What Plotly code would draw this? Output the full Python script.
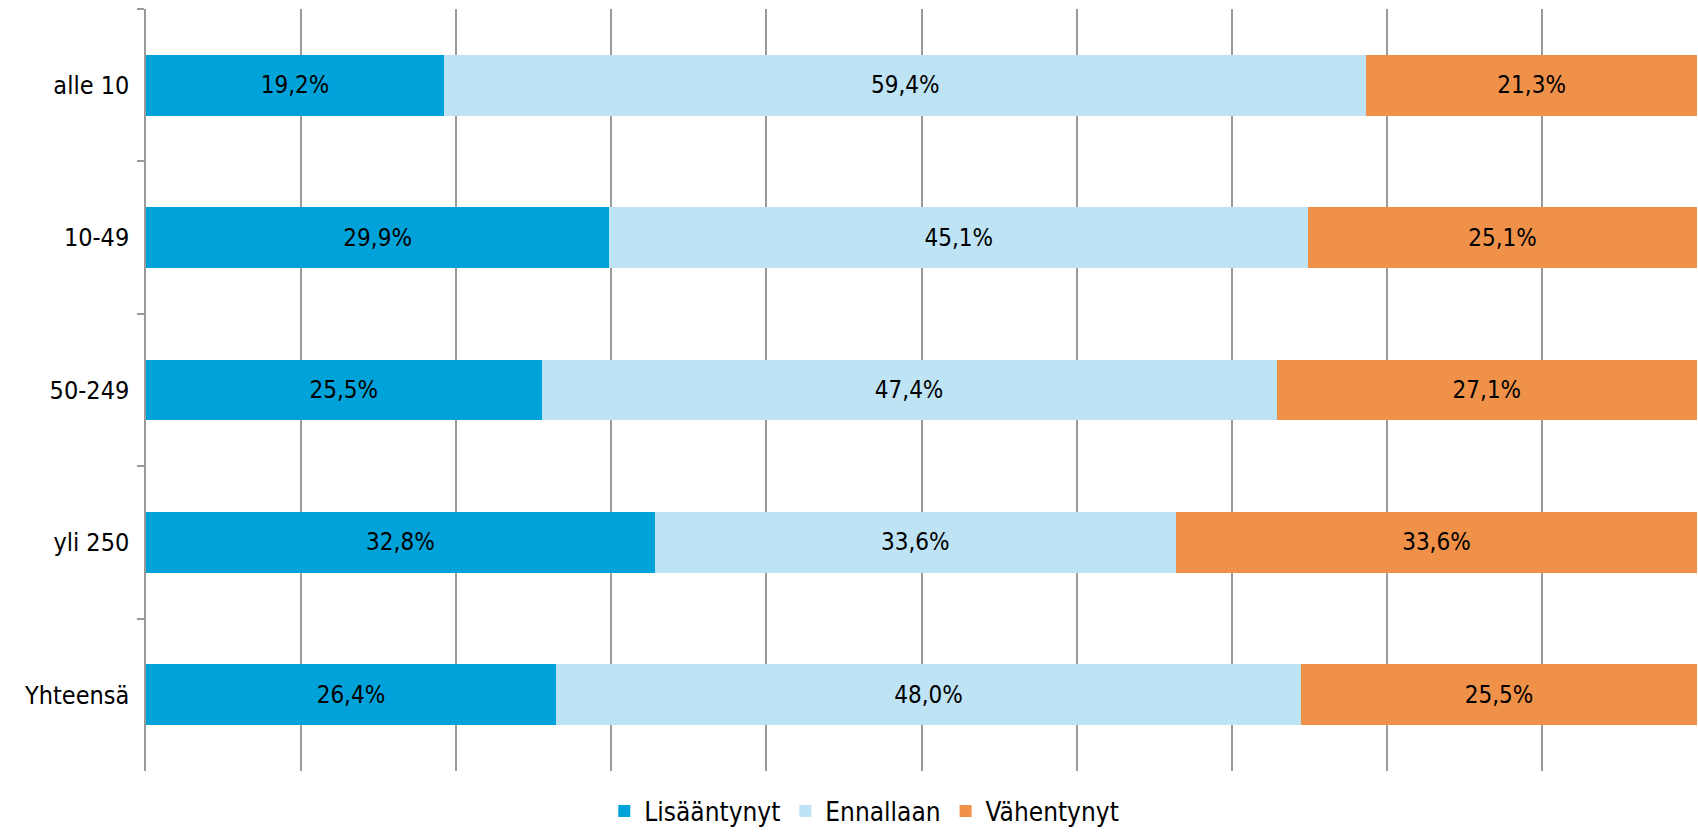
import plotly.graph_objects as go

categories = ["alle 10", "10-49", "50-249", "yli 250", "Yhteensä"]
lisaantynyt = [19.2, 29.9, 25.5, 32.8, 26.4]
ennallaan = [59.4, 45.1, 47.4, 33.6, 48.0]
vahentynyt = [21.3, 25.1, 27.1, 33.6, 25.5]
series_names = ["Lisääntynyt", "Ennallaan", "Vähentynyt"]
colors = ["#00A3D9", "#BDE3F5", "#F0914A"]

FONT = "DejaVu Sans Condensed, DejaVu Sans, sans-serif"

fig = go.Figure()
for name, vals, col in zip(series_names, [lisaantynyt, ennallaan, vahentynyt], colors):
    fig.add_trace(go.Bar(
        y=categories, x=vals, name=name, orientation="h",
        marker=dict(color=col, line=dict(width=0)),
        text=[f"{v:.1f}%".replace(".", ",") for v in vals],
        textposition="inside", insidetextanchor="middle",
        textfont=dict(color="black", size=24, family=FONT),
    ))

fig.update_layout(
    barmode="stack", barnorm="percent", bargap=0.6,
    width=1698, height=837,
    margin=dict(l=146, r=1, t=9, b=66),
    plot_bgcolor="white", paper_bgcolor="white",
    font=dict(family=FONT, size=24, color="black"),
    showlegend=True,
    legend=dict(orientation="h", xref="container", yref="container",
                x=0.509, xanchor="center", y=0.003, yanchor="bottom",
                font=dict(size=26, family=FONT), itemwidth=30, traceorder="normal"),
    xaxis=dict(range=[0, 100], dtick=10, showgrid=True, gridcolor="#9A9A9A", gridwidth=1.5,
               showticklabels=False, zeroline=False, showline=False, ticks="", automargin=False),
    yaxis=dict(autorange="reversed", type="category", tickson="boundaries", ticks="outside",
               ticklen=7, tickcolor="#9A9A9A", tickwidth=1.5, showline=True, linecolor="#9A9A9A",
               linewidth=1.5, showgrid=False, ticklabelstandoff=10, automargin=False,
               tickfont=dict(size=25, family=FONT, color="black")),
)

fig.write_html("out.html", config={"displayModeBar": False},
               post_script="document.body.style.margin='0';document.body.style.overflow='hidden';")
